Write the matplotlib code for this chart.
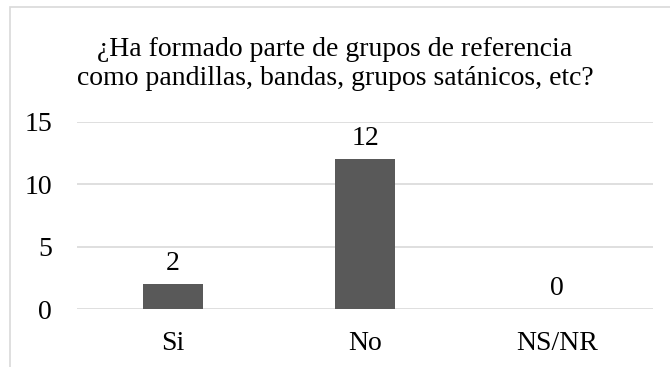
import matplotlib.pyplot as plt
from matplotlib.patches import Rectangle

categories = ["Si", "No", "NS/NR"]
values = [2, 12, 0]
yticks = [0, 5, 10, 15]
title = "¿Ha formado parte de grupos de referencia\ncomo pandillas, bandas, grupos satánicos, etc?"

plt.rcParams["font.family"] = ["Liberation Serif", "DejaVu Serif"]

fig = plt.figure(figsize=(6.7, 3.67), dpi=100)
ax = fig.add_axes([0.115, 0.158, 0.86, 0.51])

# chart border (only left and top edges visible in the crop)
fig.patches.append(Rectangle((10 / 670, -0.1), 1.2, 1 - 7 / 367 + 0.1, transform=fig.transFigure,
                             facecolor="none", edgecolor="#d9d9d9", linewidth=1.2))

x = range(len(categories))
bars = ax.bar(x, values, width=0.3125, color="#595959", zorder=3)
for b, v in zip(bars, values):
    ax.annotate(str(v), (b.get_x() + b.get_width() / 2, v), xytext=(0, 6),
                textcoords="offset points", ha="center", va="bottom", fontsize=20)

ax.set_xlim(-0.5, len(categories) - 0.5)
ax.set_ylim(0, 15)
ax.set_yticks(yticks)
ax.set_xticks(list(x))
ax.set_xticklabels(categories)
ax.tick_params(axis="both", length=0, labelsize=20)
ax.tick_params(axis="y", pad=18)
ax.tick_params(axis="x", pad=16)
ax.yaxis.grid(True, color="#d9d9d9", linewidth=1.2, zorder=0)
for s in ax.spines.values():
    s.set_visible(False)

fig.text(0.5, 1 - 64 / 367, title, ha="center", va="center", fontsize=20, linespacing=1.2)

fig.savefig("out.png", dpi=100)
